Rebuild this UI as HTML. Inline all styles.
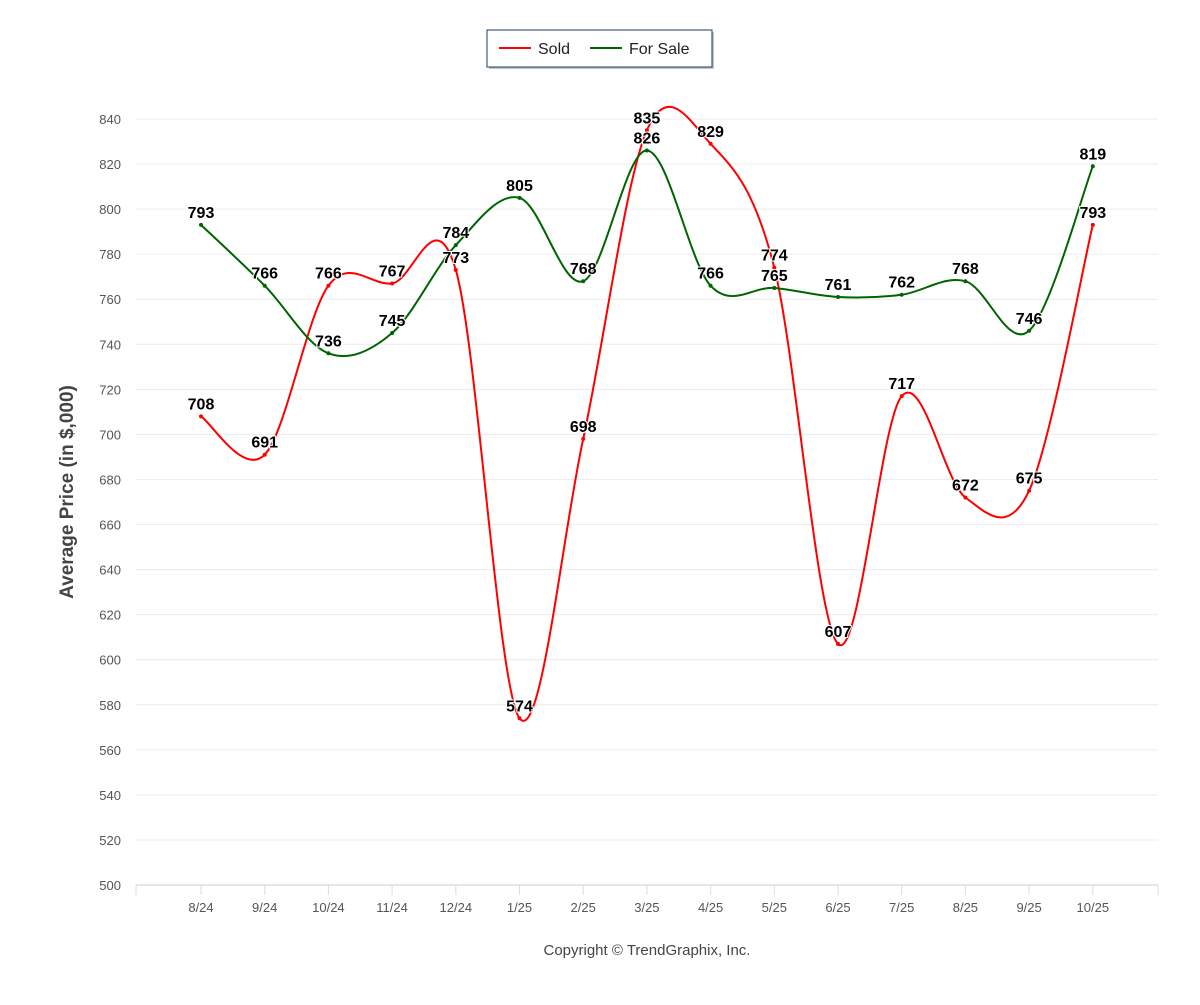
<!DOCTYPE html>
<html><head><meta charset="utf-8"><style>
body{margin:0;background:#fff;font-family:"Liberation Sans",sans-serif}
svg text{font-family:"Liberation Sans",sans-serif}
</style></head><body>
<svg id="c" width="1200" height="1000"></svg>
<script>
const categories=["8/24","9/24","10/24","11/24","12/24","1/25","2/25","3/25","4/25","5/25","6/25","7/25","8/25","9/25","10/25"];
const soldValues=[708,691,766,767,773,574,698,835,829,774,607,717,672,675,793];
const forSaleValues=[793,766,736,745,784,805,768,826,766,765,761,762,768,746,819];
const yTicks=[500,520,540,560,580,600,620,640,660,680,700,720,740,760,780,800,820,840];
const NS="http://www.w3.org/2000/svg";
const svg=document.getElementById('c');
const x0=201,dx=63.7,yB=885,yT=119,vB=500,vT=840;
const xs=i=>x0+dx*i;
const ys=v=>yB-(v-vB)*(yB-yT)/(vT-vB);
function el(t,a,p){const e=document.createElementNS(NS,t);for(const k in a)e.setAttribute(k,a[k]);(p||svg).appendChild(e);return e;}
yTicks.forEach(v=>{
 const g=el('line',{x1:136,x2:1158,y1:ys(v),y2:ys(v),stroke:v===500?'#e6e6e6':'#ececec','stroke-width':v===500?2:1});
 
 
 const t=el('text',{x:121,y:ys(v)+5,'text-anchor':'end','font-size':13,fill:'#555'});
 t.textContent=v;
 
 
});
el('line',{x1:136,x2:136,y1:885,y2:895,stroke:'#ddd'});
categories.forEach((c,i)=>{
 el('line',{x1:xs(i),x2:xs(i),y1:885,y2:895,stroke:'#ddd'});
 const t=el('text',{x:xs(i),y:912,'text-anchor':'middle','font-size':13,fill:'#555'});
 t.textContent=c;
 
 
});
el('line',{x1:1158,x2:1158,y1:885,y2:895,stroke:'#ddd'});
const yt=el('text',{x:0,y:0,transform:'translate(73,492) rotate(-90)','text-anchor':'middle','font-size':19,'font-weight':'bold',fill:'#444'});
yt.textContent='Average Price (in $,000)';


const cp=el('text',{x:647,y:955,'text-anchor':'middle','font-size':15,fill:'#444'});
cp.textContent='Copyright © TrendGraphix, Inc.';


function spline(vals){
 const P=vals.map((v,i)=>[xs(i),ys(v)]);const k=1/6;
 const T=P.map((p,i)=>{const a=P[Math.max(0,i-1)],b=P[Math.min(P.length-1,i+1)];return [(b[0]-a[0])*k,(b[1]-a[1])*k];});
 let dd='M'+P[0].join(',');
 for(let i=1;i<P.length;i++){
  const a=P[i-1],b=P[i];
  dd+=` C${a[0]+T[i-1][0]},${a[1]+T[i-1][1]} ${b[0]-T[i][0]},${b[1]-T[i][1]} ${b[0]},${b[1]}`;
 }
 return dd;
}
function series(vals,color,name){
 const p=el('path',{d:spline(vals),fill:'none',stroke:color,'stroke-width':2});
 
 
 vals.forEach((v,i)=>{
  const m=el('circle',{cx:xs(i),cy:ys(v),r:2,fill:color});
  
  
 });
}
function labels(vals,name){
 vals.forEach((v,i)=>{
  const t=el('text',{x:xs(i),y:ys(v)-7,'text-anchor':'middle','font-size':16,'font-weight':'bold',fill:'#000',stroke:'#fff','stroke-width':2,'paint-order':'stroke'});
  t.textContent=v;
  
  
 });
}
series(soldValues,'#ff0000','sold');
series(forSaleValues,'#006400','for-sale');
labels(soldValues,'sold');
labels(forSaleValues,'for-sale');
const lg=el('g',{});


el('rect',{x:489,y:32,width:225,height:37,fill:'#888',opacity:0.5},lg);
el('rect',{x:487,y:30,width:225,height:37,fill:'#fff',stroke:'#1f3864','stroke-width':1},lg);
const e1=el('g',{},lg);


el('line',{x1:499,x2:531,y1:48,y2:48,stroke:'#ff0000','stroke-width':2},e1);
const t1=el('text',{x:538,y:54,'font-size':16,fill:'#222'},e1);t1.textContent='Sold';
const e2=el('g',{},lg);


el('line',{x1:590,x2:622,y1:48,y2:48,stroke:'#006400','stroke-width':2},e2);
const t2=el('text',{x:629,y:54,'font-size':16,fill:'#222'},e2);t2.textContent='For Sale';
</script>
</body></html>
